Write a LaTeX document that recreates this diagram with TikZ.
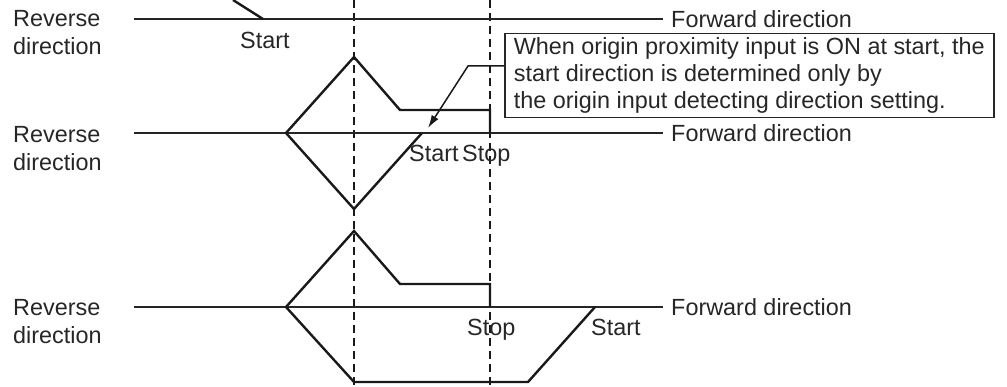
\documentclass[tikz,border=0pt]{standalone}
\usepackage{fontspec}
\setmainfont{Liberation Sans}
\usetikzlibrary{arrows.meta}
\begin{document}
\begin{tikzpicture}[x=1pt,y=-1pt,
  lbl/.style={inner sep=0pt, anchor=base west, font=\fontsize{23.4}{27}\selectfont, text=black!85},
  axisline/.style={line width=1.2pt, draw=black!85},
  prof/.style={line width=2.4pt, line join=miter, draw=black!90},
  guide/.style={line width=1.5pt, dash pattern=on 8pt off 5pt, draw=black!90},
  note/.style={draw=black!85, line width=1.5pt, inner xsep=0pt, inner ysep=0pt, anchor=north west,
    minimum width=489pt, minimum height=84pt, align=left,
    font=\fontsize{23.4}{27}\selectfont, text=black!85},
  leader/.style={line width=1.5pt, draw=black!90, -{Latex[length=13pt,width=8pt]}}]
\useasboundingbox (0,0) rectangle (1007,387);

% guides
\coordinate (g1t) at (354,0);
\coordinate (g1b) at (354,387);
\coordinate (g2t) at (490,0);
\coordinate (g2b) at (490,387);
\draw[guide] (g1t) -- (g1b);
\draw[guide] (g2t) -- (g2b);

% row 1
\node[lbl] (r1a) at (13,27) {Reverse};
\node[lbl] (r1b) at (13,55) {direction};
\coordinate (a1l) at (134,19);
\node[lbl, anchor=west] (f1) at (671,19) {Forward direction};
\draw[axisline, shorten >=8pt] (a1l) -- (f1.west);
\draw[prof] (233,0) -- (263,19);
\node[lbl] (s1) at (240,49) {Start};

% row 2
\node[lbl] (r2a) at (13,143) {Reverse};
\node[lbl] (r2b) at (13,171) {direction};
\coordinate (a2l) at (134,133);
\node[lbl, anchor=west] (f2) at (671,133) {Forward direction};
\draw[axisline, shorten >=8pt] (a2l) -- (f2.west);
\draw[prof] (286,133) -- (354,57) -- (400,110) -- (490,110) -- (490,133);
\draw[prof] (286,133) -- (354,209) -- (422,133);
\node[lbl] (s2) at (409,162) {Start};
\node[lbl] (p2) at (462,162) {Stop};

% note
\node[note] (box) at (504,33) {When origin proximity input is ON at start, the\\start direction is determined only by\\the origin input detecting direction setting.};
\coordinate (lk) at (468,66);
\coordinate (tip) at (428,128);
\draw[leader] (box.west |- lk) -- (lk) -- (tip);

% row 3
\node[lbl] (r3a) at (13,316) {Reverse};
\node[lbl] (r3b) at (13,344) {direction};
\coordinate (a3l) at (134,307);
\node[lbl, anchor=west] (f3) at (671,307) {Forward direction};
\draw[axisline, shorten >=8pt] (a3l) -- (f3.west);
\draw[prof] (286,307) -- (354,231) -- (400,284) -- (490,284) -- (490,307);
\draw[prof] (286,307) -- (354,382) -- (528,382) -- (595,307);
\node[lbl] (p3) at (467,336) {Stop};
\node[lbl] (s3) at (591,336) {Start};
\end{tikzpicture}
\end{document}
